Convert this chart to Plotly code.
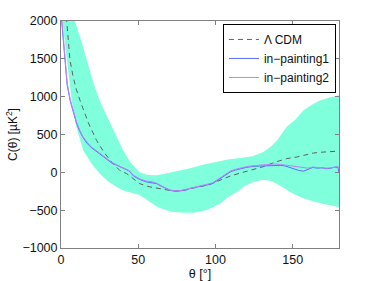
import plotly.graph_objects as go

# Band (68% region) upper and lower edges
upper_theta = [0, 4.5, 9, 13, 17, 21, 25, 30, 35, 40, 45, 51, 56, 62, 67, 73, 83, 92, 100, 108, 116, 124, 131, 136, 140, 146, 152, 157, 163, 168, 174, 180]
upper_val = [2700, 2350, 2000, 1744, 1450, 1180, 950, 740, 520, 300, 130, 0, -35, -40, -20, 5, 50, 100, 136, 170, 190, 211, 268, 340, 423, 598, 700, 819, 900, 951, 990, 1020]

lower_theta = [0, 0.9, 3.7, 6.9, 10, 14.4, 20, 25, 30, 36, 40, 45, 51, 56, 62, 68, 73, 80, 86, 94, 103, 108, 113.8, 119, 124.5, 131, 136, 139.7, 145, 150.4, 156, 161, 170, 180]
lower_val = [2300, 2000, 1480, 951, 600, 290, 110, -17, -110, -194, -238, -265, -300, -370, -450, -500, -524, -535, -535, -502, -414, -330, -260, -180, -128, -97, -115, -150, -215, -282, -335, -370, -420, -458]

# Lambda CDM
lcdm_theta = [0, 2, 3.7, 5.8, 8, 10, 12.3, 15, 18, 23, 28, 33, 38, 42.5, 47, 51, 57, 64, 72.8, 78, 83.5, 89, 94, 98, 103, 109.5, 116, 124, 131, 138, 146, 152.6, 158, 163.4, 168, 172, 176, 180]
lcdm_val = [3000, 2350, 2000, 1480, 1250, 1090, 951, 790, 640, 423, 260, 130, 26, -17, -90, -150, -190, -216, -247, -240, -216, -195, -172, -145, -106, -50, -10, 40, 75, 130, 181, 202, 230, 255, 265, 272, 277, 281]

# in-painting 1
ip1_theta = [0, 1, 2, 3, 4, 6, 8, 10, 12, 14, 17, 20, 25, 30, 33, 36, 40, 44, 47, 51, 55, 59, 62, 65, 68, 71, 75, 78, 81, 84, 87, 90, 94, 98, 101, 104, 107, 110, 113, 116, 120, 125, 129, 133, 138, 142, 145, 148, 151, 154, 157, 160, 163, 166, 169, 172, 175, 177, 178.6, 179.3, 180]
ip1_val = [2100, 1850, 1560, 1300, 1150, 940, 780, 650, 550, 470, 380, 320, 245, 170, 120, 95, 60, 20, -50, -95, -125, -135, -150, -185, -215, -240, -250, -245, -235, -210, -200, -190, -170, -150, -110, -70, -40, 10, 30, 48, 65, 80, 82, 92, 95, 92, 85, 70, 45, 25, 15, 40, 65, 55, 60, 48, 55, 70, 62, 75, -10]

# in-painting 2
ip2_theta = [0, 1, 2, 3, 4, 6, 8, 10, 12, 14, 17, 20, 25, 30, 33, 36, 40, 44, 47, 51, 55, 59, 62, 65, 68, 71, 75, 78, 81, 84, 87, 90, 94, 98, 101, 104, 107, 110, 113, 116, 120, 125, 129, 133, 138, 142, 145, 148, 151, 154, 157, 160, 163, 166, 169, 172, 175, 177, 179, 180]
ip2_val = [2150, 1900, 1600, 1340, 1180, 960, 800, 670, 565, 480, 395, 330, 255, 175, 130, 100, 65, 25, -40, -85, -115, -125, -145, -180, -210, -235, -245, -240, -225, -200, -185, -180, -160, -140, -100, -60, -30, 20, 40, 55, 75, 88, 95, 102, 110, 105, 95, 85, 75, 65, 60, 55, 70, 62, 58, 55, 60, 65, 80, 40]

x_ticks = [0, 50, 100, 150]
y_ticks = [-1000, -500, 0, 500, 1000, 1500, 2000]

FONT = "Liberation Sans, Arial, sans-serif"

fig = go.Figure()

band_x = upper_theta + lower_theta[::-1]
band_y = upper_val + lower_val[::-1]
fig.add_trace(go.Scatter(x=band_x, y=band_y, fill="toself", fillcolor="#7FFFDC",
                         line=dict(width=0, color="#7FFFDC"), mode="lines",
                         showlegend=False, hoverinfo="skip"))

fig.add_trace(go.Scatter(x=lcdm_theta, y=lcdm_val, mode="lines", name="\u039b CDM",
                         line=dict(color="#606060", width=1, dash="5px,4px")))
fig.add_trace(go.Scatter(x=ip1_theta, y=ip1_val, mode="lines", name="in\u2212painting1",
                         line=dict(color="#5a6cff", width=1)))
fig.add_trace(go.Scatter(x=ip2_theta, y=ip2_val, mode="lines", name="in\u2212painting2",
                         line=dict(color="#c080ff", width=1)))

axis_common = dict(showline=True, linecolor="#808080", linewidth=1, mirror="ticks",
                   ticks="inside", ticklen=4, tickcolor="#808080", showgrid=False,
                   zeroline=False, automargin=False,
                   tickfont=dict(family=FONT, size=12.5, color="#111111"))

fig.update_layout(
    width=374, height=281,
    margin=dict(l=61, r=35, t=21, b=33, pad=0),
    paper_bgcolor="white", plot_bgcolor="white",
    font=dict(family=FONT, size=12, color="#111111"),
    xaxis=dict(range=[0, 180], tickvals=x_ticks, ticktext=[str(v) for v in x_ticks],
               title=dict(text="\u03b8 [\u00b0]", standoff=0, font=dict(size=12.5)), **axis_common),
    yaxis=dict(range=[-1000, 2000], tickvals=y_ticks,
               ticktext=[str(v).replace("-", "\u2212") for v in y_ticks],
               title=dict(text="C(\u03b8) [\u00b5K<sup>2</sup>]", standoff=2, font=dict(size=12)),
               **axis_common),
    legend=dict(x=0.989, y=0.987, xanchor="right", yanchor="top",
                bgcolor="white", bordercolor="#000000", borderwidth=1,
                font=dict(family=FONT, size=12, color="#111111"),
                itemwidth=30, tracegroupgap=0),
    showlegend=True,
)

fig.write_html("out.html", config={"displayModeBar": False},
               post_script="document.body.style.margin='0';document.body.style.overflow='hidden';")
